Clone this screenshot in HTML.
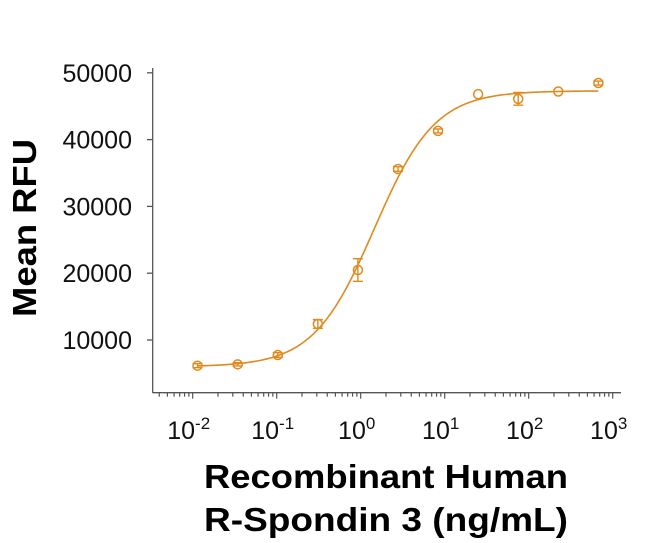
<!DOCTYPE html>
<html><head><meta charset="utf-8"><style>
html,body{margin:0;padding:0;background:#fff;width:650px;height:543px;overflow:hidden}
svg{display:block;font-family:"Liberation Sans",Arial,sans-serif}
</style></head><body>
<svg id="chart" width="650" height="543" viewBox="0 0 650 543">
<g id="axes"></g>
<g id="marks"></g>
<text transform="translate(36,228) rotate(-90)" text-anchor="middle" font-weight="bold" font-size="33" textLength="178" lengthAdjust="spacingAndGlyphs">Mean RFU</text>
<text x="386" y="488" text-anchor="middle" font-weight="bold" font-size="33" textLength="364" lengthAdjust="spacingAndGlyphs">Recombinant Human</text>
<text x="386" y="531" text-anchor="middle" font-weight="bold" font-size="33" textLength="364" lengthAdjust="spacingAndGlyphs">R-Spondin 3 (ng/mL)</text>
</svg>
<script>
const concentrations=[0.0114,0.0343,0.103,0.309,0.926,2.78,8.33,25,75,225,675];
const meanRFU=[6150,6360,7750,12400,20480,35600,41300,46800,46100,47200,48470];
const errRFU=[300,250,350,650,1700,350,300,0,950,0,300];
const yTicks=[10000,20000,30000,40000,50000];
const xTickExps=[-2,-1,0,1,2,3];
const fitBottom=6000, fitTop=47300, fitEC50=1.45, fitHill=1.2;

const NS="http://www.w3.org/2000/svg";
const color="#E08A1E";
const axisG=document.getElementById('axes'), marksG=document.getElementById('marks');
function X(v){return 360.7+84*Math.log10(v);}
function Y(v){return 406.8-v*66.8/10000;}
function mk(tag,attrs,parent){const e=document.createElementNS(NS,tag);for(const k in attrs)e.setAttribute(k,attrs[k]);parent.appendChild(e);return e;}

let e=mk('line',{x1:152.7,y1:68,x2:152.7,y2:393,stroke:'#555','stroke-width':1.3},axisG);


e=mk('line',{x1:152.7,y1:392.7,x2:621,y2:392.7,stroke:'#555','stroke-width':1.3},axisG);


yTicks.forEach(t=>{
  let l=mk('line',{x1:147,y1:Y(t),x2:152.7,y2:Y(t),stroke:'#555','stroke-width':1.3},axisG);
  
  
  let tx=mk('text',{x:132,y:Y(t)+9,'text-anchor':'end','font-size':25,fill:'#111'},axisG);
  tx.textContent=t;
  
  
});
for(let d=-3;d<3;d++){for(let m=1;m<10;m++){const v=m*Math.pow(10,d);const px=X(v);if(px<158||px>621)continue;
  let l=mk('line',{x1:px,y1:392.7,x2:px,y2:392.7+(m===1?6:4),stroke:'#555','stroke-width':1.2},axisG);
  
  }}
let l3=mk('line',{x1:X(1000),y1:392.7,x2:X(1000),y2:398.7,stroke:'#555','stroke-width':1.2},axisG);


xTickExps.forEach(p=>{
  let tx=mk('text',{x:X(Math.pow(10,p))-4,y:439,'text-anchor':'middle','font-size':25,fill:'#111'},axisG);
  
  
  tx.appendChild(document.createTextNode('10'));
  const s=document.createElementNS(NS,'tspan');s.setAttribute('dy',-10);s.setAttribute('font-size',17);s.textContent=p;tx.appendChild(s);
});
let d='';
const lo=Math.log10(concentrations[0]),hi=Math.log10(concentrations[concentrations.length-1]);
for(let i=0;i<=200;i++){const lx=lo+(hi-lo)*i/200;const v=Math.pow(10,lx);
  const yv=fitBottom+(fitTop-fitBottom)/(1+Math.pow(fitEC50/v,fitHill));
  d+=(i?'L':'M')+X(v).toFixed(2)+','+Y(yv).toFixed(2);}
let c=mk('path',{d:d,fill:'none',stroke:color,'stroke-width':1.6},marksG);


concentrations.forEach((cx,i)=>{
  const px=X(cx),py=Y(meanRFU[i]);
  if(errRFU[i]>0){const t=Y(meanRFU[i]+errRFU[i]),b=Y(meanRFU[i]-errRFU[i]);
    let eb=mk('path',{d:`M${px},${t}V${b}M${px-5},${t}H${px+5}M${px-5},${b}H${px+5}`,stroke:color,'stroke-width':1.4,fill:'none'},marksG);
    
    }
  let pt=mk('circle',{cx:px,cy:py,r:4.5,fill:'none',stroke:color,'stroke-width':1.5},marksG);
  
  
});
</script>
</body></html>
